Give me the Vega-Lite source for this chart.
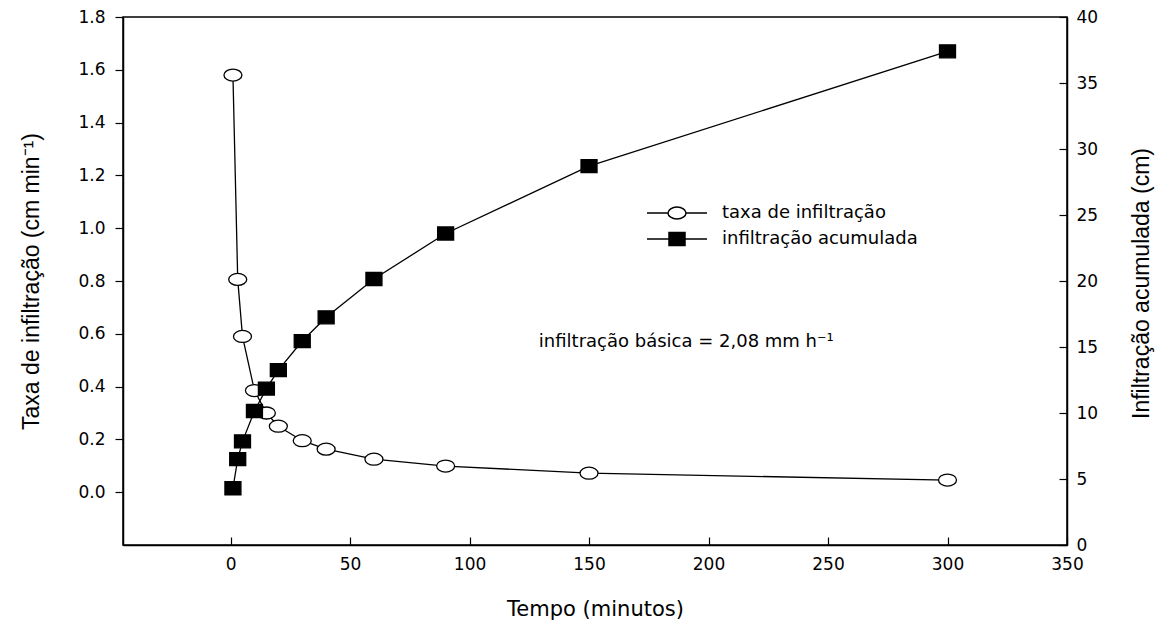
{
  "$schema": "https://vega.github.io/schema/vega-lite/v6.json",
  "width": 944,
  "height": 528,
  "autosize": {"type": "none"},
  "padding": {"left": 123, "top": 17, "right": 99, "bottom": 79},
  "background": "white",
  "config": {
    "font": "Liberation Sans",
    "view": {"stroke": "black", "strokeWidth": 1.5},
    "axis": {
      "domainColor": "black", "domainWidth": 1.5, "tickColor": "black", "tickWidth": 1.2,
      "labelColor": "black", "titleColor": "black", "grid": false,
      "labelFontSize": 17, "titleFontSize": 23, "titleFontWeight": "normal",
      "labelFont": "DejaVu Sans", "titleFont": "Liberation Sans"
    },
    "legend": {"labelFont": "DejaVu Sans", "labelColor": "black"}
  },
  "data": {
    "values": [
      {"tempo": 1, "serie": "taxa de infiltração", "valor": 1.58},
      {"tempo": 3, "serie": "taxa de infiltração", "valor": 0.806},
      {"tempo": 5, "serie": "taxa de infiltração", "valor": 0.59},
      {"tempo": 10, "serie": "taxa de infiltração", "valor": 0.385},
      {"tempo": 15, "serie": "taxa de infiltração", "valor": 0.30},
      {"tempo": 20, "serie": "taxa de infiltração", "valor": 0.25},
      {"tempo": 30, "serie": "taxa de infiltração", "valor": 0.195},
      {"tempo": 40, "serie": "taxa de infiltração", "valor": 0.163},
      {"tempo": 60, "serie": "taxa de infiltração", "valor": 0.125},
      {"tempo": 90, "serie": "taxa de infiltração", "valor": 0.099},
      {"tempo": 150, "serie": "taxa de infiltração", "valor": 0.072},
      {"tempo": 300, "serie": "taxa de infiltração", "valor": 0.046},
      {"tempo": 1, "serie": "infiltração acumulada", "valor": 4.3},
      {"tempo": 3, "serie": "infiltração acumulada", "valor": 6.5},
      {"tempo": 5, "serie": "infiltração acumulada", "valor": 7.85},
      {"tempo": 10, "serie": "infiltração acumulada", "valor": 10.15},
      {"tempo": 15, "serie": "infiltração acumulada", "valor": 11.85},
      {"tempo": 20, "serie": "infiltração acumulada", "valor": 13.25},
      {"tempo": 30, "serie": "infiltração acumulada", "valor": 15.45},
      {"tempo": 40, "serie": "infiltração acumulada", "valor": 17.25},
      {"tempo": 60, "serie": "infiltração acumulada", "valor": 20.15},
      {"tempo": 90, "serie": "infiltração acumulada", "valor": 23.6},
      {"tempo": 150, "serie": "infiltração acumulada", "valor": 28.7},
      {"tempo": 300, "serie": "infiltração acumulada", "valor": 37.4}
    ]
  },
  "encoding": {
    "x": {
      "field": "tempo", "type": "quantitative",
      "scale": {"domain": [-45, 350], "nice": false, "zero": false},
      "axis": {
        "title": "Tempo (minutos)", "orient": "bottom",
        "values": [0, 50, 100, 150, 200, 250, 300, 350],
        "tickSize": -8, "labelPadding": 19, "labelFlush": false,
        "titleX": 472, "titleY": 64, "titleBaseline": "middle", "titleAlign": "center",
        "titleFontSize": 21, "titleFont": "DejaVu Sans"
      }
    }
  },
  "layer": [
    {
      "encoding": {
        "y": {
          "field": "valor", "type": "quantitative",
          "scale": {"domain": [-0.2, 1.8], "nice": false, "zero": false},
          "axis": {
            "title": "Taxa de infiltração (cm min⁻¹)", "orient": "left",
            "values": [0, 0.2, 0.4, 0.6, 0.8, 1.0, 1.2, 1.4, 1.6, 1.8], "format": ".1f",
            "tickSize": 8, "labelPadding": 10, "labelFlush": false,
            "titleX": -92, "titleY": 264, "titleAngle": -90, "titleBaseline": "middle", "titleAlign": "center"
          }
        }
      },
      "layer": [
        {
          "transform": [{"filter": "datum.serie === 'taxa de infiltração'"}],
          "mark": {"type": "line", "color": "black", "strokeWidth": 1.3}
        },
        {
          "transform": [{"filter": "datum.serie === 'taxa de infiltração'"}],
          "mark": {"type": "point", "filled": true, "fill": "white", "stroke": "black", "strokeWidth": 1.3, "size": 400, "opacity": 1,
                   "shape": "M-0.9,0A0.9,0.6 0 1,1 0.9,0A0.9,0.6 0 1,1 -0.9,0Z"}
        },
        {
          "transform": [{"filter": "false"}],
          "mark": {"type": "point", "filled": true, "stroke": "black", "strokeWidth": 1.3, "size": 400, "opacity": 1},
          "encoding": {
            "shape": {
              "field": "serie", "type": "nominal",
              "scale": {"domain": ["taxa de infiltração", "infiltração acumulada"], "range": ["M-3,0H-0.9M0.9,0H3M-0.9,0A0.9,0.6 0 1,1 0.9,0A0.9,0.6 0 1,1 -0.9,0Z", "M-3,0H-0.8M0.8,0H3M-0.8,-0.65H0.8V0.65H-0.8Z"]},
              "legend": {
                "title": null, "orient": "none", "legendX": 543, "legendY": 185,
                "padding": 0, "labelOffset": 34, "rowPadding": 6, "symbolSize": 400,
                "labelFontSize": 18, "labelLimit": 0
              }
            },
            "fill": {
              "field": "serie", "type": "nominal",
              "scale": {"domain": ["taxa de infiltração", "infiltração acumulada"], "range": ["white", "black"]},
              "legend": null
            }
          }
        },
        {
          "transform": [{"filter": "datum.tempo === 300 && datum.serie === 'taxa de infiltração'"}],
          "mark": {"type": "text", "align": "left", "baseline": "middle", "fontSize": 18, "fill": "black", "font": "DejaVu Sans",
                   "text": "infiltração básica = 2,08 mm h⁻¹"},
          "encoding": {
            "x": {"datum": 129, "type": "quantitative"},
            "y": {"datum": 0.57, "type": "quantitative"}
          }
        }
      ]
    },
    {
      "encoding": {
        "y": {
          "field": "valor", "type": "quantitative",
          "scale": {"domain": [0, 40], "nice": false},
          "axis": {
            "title": "Infiltração acumulada (cm)", "orient": "right",
            "values": [0, 5, 10, 15, 20, 25, 30, 35, 40],
            "tickSize": -8, "labelPadding": 17, "labelFlush": false,
            "titleX": 74, "titleY": 266, "titleAngle": -90, "titleBaseline": "middle", "titleAlign": "center"
          }
        }
      },
      "transform": [{"filter": "datum.serie === 'infiltração acumulada'"}],
      "layer": [
        {"mark": {"type": "line", "color": "black", "strokeWidth": 1.3}},
        {
          "mark": {"type": "point", "filled": true, "fill": "black", "stroke": "black", "strokeWidth": 1.3, "size": 400, "opacity": 1,
                   "shape": "M-0.8,-0.65H0.8V0.65H-0.8Z"}
        }
      ]
    }
  ],
  "resolve": {"scale": {"y": "independent"}}
}
